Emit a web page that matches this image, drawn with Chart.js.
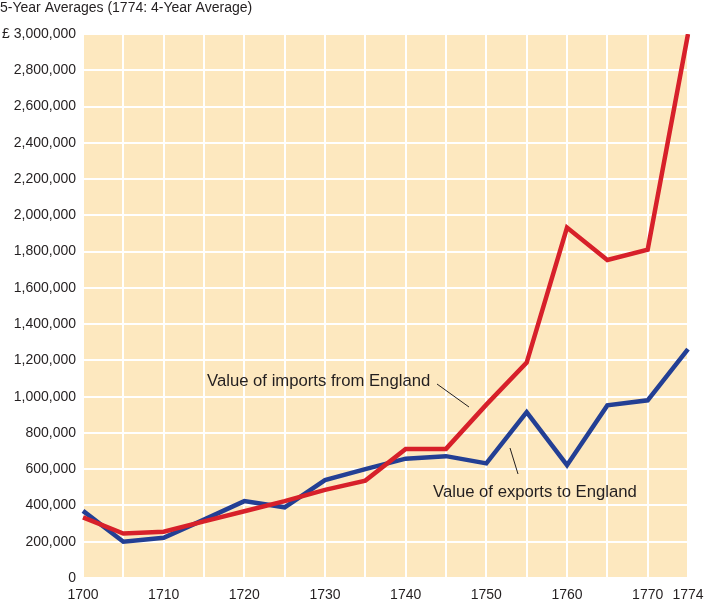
<!DOCTYPE html>
<html>
<head>
<meta charset="utf-8">
<script src="https://cdn.jsdelivr.net/npm/chart.js@4.4.1/dist/chart.umd.min.js"></script>
<style>
  html, body { margin: 0; padding: 0; background: #fff; }
  #wrap { width: 704px; height: 600px; position: relative; }
</style>
</head>
<body>
<div id="wrap"><canvas id="tradeChart"></canvas></div>
<script>
// years on the x axis (last point is a 4-year average)
const years = ['1700', '1705', '1710', '1715', '1720', '1725', '1730', '1735',
               '1740', '1745', '1750', '1755', '1760', '1765', '1770', '1774'];
const labelledYears = ['1700', '1710', '1720', '1730', '1740', '1750', '1760', '1770', '1774'];

// values in pounds sterling
const importsFromEngland = [334000, 245000, 255000, 312000, 368000, 424000, 486000, 537000,
                            712000, 712000, 956000, 1188000, 1933000, 1754000, 1811000, 3000000];
const exportsToEngland = [370000, 200000, 222000, 322000, 424000, 390000, 540000, 600000,
                          658000, 672000, 632000, 915000, 622000, 952000, 980000, 1262000];

const yMax = 3000000;
const yStep = 200000;

const textColor = '#231f20';
const fontFamily = '"Liberation Sans", Arial, Helvetica, sans-serif';

// fill the plot area and draw the title + callout labels
const decorations = {
    id: 'decorations',
    beforeDraw(chart) {
        const { ctx, chartArea } = chart;
        ctx.save();
        ctx.fillStyle = '#fde8bf';
        ctx.fillRect(chartArea.left, chartArea.top, chartArea.right - chartArea.left, chartArea.bottom - chartArea.top);
        ctx.restore();
    },
    afterDraw(chart) {
        const { ctx } = chart;
        ctx.save();
        ctx.fillStyle = textColor;
        ctx.textBaseline = 'alphabetic';
        ctx.font = '14px ' + fontFamily;
        ctx.fillText('5-Year Averages (1774: 4-Year Average)', 0, 12);

        ctx.font = '16.7px ' + fontFamily;
        ctx.fillText('Value of imports from England', 207, 386);
        ctx.fillText('Value of exports to England', 433, 497);

        ctx.strokeStyle = textColor;
        ctx.lineWidth = 1;
        ctx.beginPath();
        ctx.moveTo(437, 384);
        ctx.lineTo(469, 407);
        ctx.moveTo(510, 448);
        ctx.lineTo(518, 474);
        ctx.stroke();
        ctx.restore();
    }
};

const ctx = document.getElementById('tradeChart').getContext('2d');
const tradeChart = new Chart(ctx, {
    type: 'line',
    data: {
        labels: years,
        datasets: [
            {
                label: 'Value of imports from England',
                data: importsFromEngland,
                borderColor: '#d7202a',
                borderWidth: 4.5,
                borderJoinStyle: 'miter',
                pointRadius: 0,
                tension: 0
            },
            {
                label: 'Value of exports to England',
                data: exportsToEngland,
                borderColor: '#233f94',
                borderWidth: 4.5,
                borderJoinStyle: 'miter',
                pointRadius: 0,
                tension: 0
            }
        ]
    },
    options: {
        responsive: true,
        maintainAspectRatio: false,
        animation: false,
        layout: { padding: { top: 34, right: 16, left: 0, bottom: 0 } },
        plugins: {
            legend: { display: false },
            tooltip: { enabled: false }
        },
        scales: {
            x: {
                offset: false,
                border: { display: false },
                grid: { color: '#ffffff', lineWidth: 2, drawTicks: false },
                ticks: {
                    autoSkip: false,
                    maxRotation: 0,
                    padding: 9,
                    color: textColor,
                    font: { family: fontFamily, size: 14 },
                    callback: function (value, index) {
                        const label = this.getLabelForValue(value);
                        return labelledYears.includes(label) ? label : '';
                    }
                },
                afterFit(scale) {
                    scale.height = 22;
                    scale.paddingLeft = 0;
                    scale.paddingRight = 0;
                }
            },
            y: {
                min: 0,
                max: yMax,
                border: { display: false },
                grid: { color: '#ffffff', lineWidth: 2, drawTicks: false },
                ticks: {
                    stepSize: yStep,
                    padding: 7,
                    color: textColor,
                    font: { family: fontFamily, size: 14 },
                    callback: value => {
                        const txt = value.toLocaleString('en-US');
                        return value === yMax ? '£ ' + txt : txt;
                    }
                },
                afterFit(scale) { scale.width = 83; }
            }
        }
    },
    plugins: [decorations]
});
</script>
</body>
</html>
